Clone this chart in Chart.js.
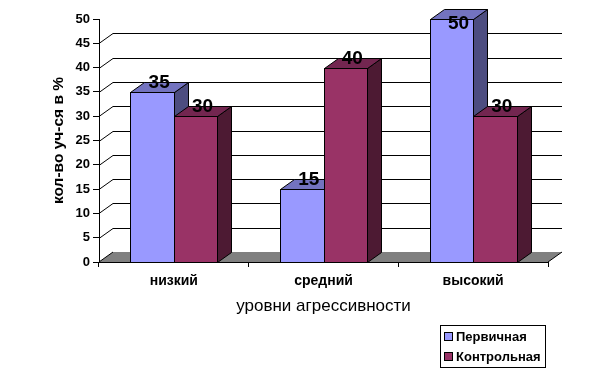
<!DOCTYPE html>
<html>
<head>
<meta charset="utf-8">
<script src="https://cdn.jsdelivr.net/npm/chart.js@4/dist/chart.umd.min.js"></script>
<style>
  body { margin: 0; background: #fff; }
  #wrap { width: 603px; height: 375px; }
</style>
</head>
<body>
<div id="wrap"><canvas id="myChart" width="603" height="375"></canvas></div>
<script>
"use strict";
// data --------------
const levels = ["низкий", "средний", "высокий"];
const firstValues = [35, 15, 50];
const controlValues = [30, 40, 30];
const seriesNames = ["Первичная", "Контрольная"];
const yTicks = [0, 5, 10, 15, 20, 25, 30, 35, 40, 45, 50];

const FONT = "'Liberation Sans', Arial, sans-serif";
const DX = 14; // depth of the fake 3d
const DY = 10;

const frontColors = ["#9999FF", "#993366"];
const topColors = ["#7373BF", "#732650"];
const sideColors = ["#4D4D80", "#4D1A33"];

// pseudo 3d drawing ---------------
const excel3d = {
  id: "excel3d",
  beforeDatasetsDraw(chart) {
    const ctx = chart.ctx;
    const area = chart.chartArea;
    const y = chart.scales.y;
    ctx.save();
    ctx.lineWidth = 1;

    // back wall grid + side wall diagonals
    ctx.strokeStyle = "#000";
    yTicks.forEach((v) => {
      if (v === 0 || v === 50) return;
      const py = Math.round(y.getPixelForValue(v)) + 0.5;
      ctx.beginPath();
      ctx.moveTo(area.left, py);
      ctx.lineTo(area.left + DX, py - DY);
      ctx.lineTo(area.right + DX, py - DY);
      ctx.stroke();
    });

    // floor
    const b = area.bottom;
    ctx.fillStyle = "#808080";
    ctx.beginPath();
    ctx.moveTo(area.left, b);
    ctx.lineTo(area.right, b);
    ctx.lineTo(area.right + DX, b - DY);
    ctx.lineTo(area.left + DX, b - DY);
    ctx.closePath();
    ctx.fill();
    ctx.beginPath();
    ctx.moveTo(area.left, b);
    ctx.lineTo(area.left + DX, b - DY);
    ctx.moveTo(area.right, b);
    ctx.lineTo(area.right + DX, b - DY);
    ctx.stroke();

    // bars, category by category so later bars cover earlier side faces
    const metas = chart.data.datasets.map((d, i) => chart.getDatasetMeta(i));
    for (let c = 0; c < levels.length; c++) {
      metas.forEach((meta, di) => {
        const bar = meta.data[c];
        const l = Math.round(bar.x - bar.width / 2) + 0.5;
        const r = Math.round(bar.x + bar.width / 2) + 0.5;
        const t = Math.round(bar.y) + 0.5;
        const bs = Math.round(bar.base) + 0.5;
        ctx.strokeStyle = "#000";
        // side
        ctx.fillStyle = sideColors[di];
        ctx.beginPath();
        ctx.moveTo(r, t);
        ctx.lineTo(r + DX, t - DY);
        ctx.lineTo(r + DX, bs - DY);
        ctx.lineTo(r, bs);
        ctx.closePath();
        ctx.fill();
        ctx.stroke();
        // top
        ctx.fillStyle = topColors[di];
        ctx.beginPath();
        ctx.moveTo(l, t);
        ctx.lineTo(r, t);
        ctx.lineTo(r + DX, t - DY);
        ctx.lineTo(l + DX, t - DY);
        ctx.closePath();
        ctx.fill();
        ctx.stroke();
        // front
        ctx.fillStyle = frontColors[di];
        ctx.fillRect(l, t, r - l, bs - t);
        ctx.strokeRect(l, t, r - l, bs - t);
      });
    }

    // value labels
    ctx.fillStyle = "#000";
    ctx.font = "bold 19px " + FONT;
    ctx.textAlign = "center";
    ctx.textBaseline = "alphabetic";
    metas.forEach((meta, di) => {
      meta.data.forEach((bar, i) => {
        const val = chart.data.datasets[di].data[i];
        const ly = Math.max(bar.y - 4, area.top + 10);
        ctx.fillText(String(val), bar.x + DX / 2, ly);
      });
    });
    ctx.restore();
    return false;
  },
  afterDraw(chart) {
    // legend box
    const ctx = chart.ctx;
    ctx.save();
    ctx.strokeStyle = "#000";
    ctx.lineWidth = 1;
    ctx.fillStyle = "#fff";
    ctx.fillRect(440.5, 325.5, 105, 42);
    ctx.strokeRect(440.5, 325.5, 105, 42);
    ctx.font = "bold 13px " + FONT;
    ctx.textBaseline = "middle";
    ctx.textAlign = "left";
    seriesNames.forEach((name, i) => {
      const cy = 337 + i * 20;
      ctx.fillStyle = frontColors[i];
      ctx.fillRect(444.5, cy - 4.5, 8, 8);
      ctx.strokeRect(444.5, cy - 4.5, 8, 8);
      ctx.fillStyle = "#000";
      ctx.fillText(name, 456, cy);
    });
    ctx.restore();
  },
};

const ctx = document.getElementById("myChart").getContext("2d");
const myChart = new Chart(ctx, {
  type: "bar",
  data: {
    labels: levels,
    datasets: [
      { label: seriesNames[0], data: firstValues, backgroundColor: frontColors[0] },
      { label: seriesNames[1], data: controlValues, backgroundColor: frontColors[1] },
    ],
  },
  options: {
    responsive: false,
    animation: false,
    layout: { padding: { top: 19, right: 55, left: 0, bottom: 0 } },
    datasets: { bar: { categoryPercentage: 0.58, barPercentage: 1 } },
    plugins: {
      legend: { display: false },
      tooltip: { enabled: false },
    },
    scales: {
      x: {
        afterFit: (scale) => { scale.height = 113; },
        grid: {
          offset: true,
          drawOnChartArea: false,
          drawTicks: true,
          tickLength: 5,
          color: "#000",
        },
        border: { display: true, color: "#000" },
        ticks: {
          color: "#000",
          padding: 6,
          font: { family: FONT, size: 14, weight: "bold" },
        },
        title: {
          display: true,
          text: "уровни агрессивности",
          color: "#000",
          font: { family: FONT, size: 17 },
          padding: { top: 0, bottom: 58 },
        },
      },
      y: {
        min: 0,
        max: 50,
        afterFit: (scale) => { scale.width = 99; },
        afterBuildTicks: (scale) => {
          scale.ticks = yTicks.map((v) => ({ value: v }));
        },
        grid: {
          drawOnChartArea: false,
          drawTicks: true,
          tickLength: 6,
          color: "#000",
        },
        border: { display: true, color: "#000" },
        ticks: {
          color: "#000",
          padding: 3,
          font: { family: FONT, size: 13, weight: "bold" },
        },
        title: {
          display: true,
          text: "кол-во уч-ся в %",
          color: "#000",
          font: { family: FONT, size: 15.5, weight: "bold" },
          padding: { top: 49, bottom: 0 },
        },
      },
    },
  },
  plugins: [excel3d],
});
</script>
</body>
</html>
